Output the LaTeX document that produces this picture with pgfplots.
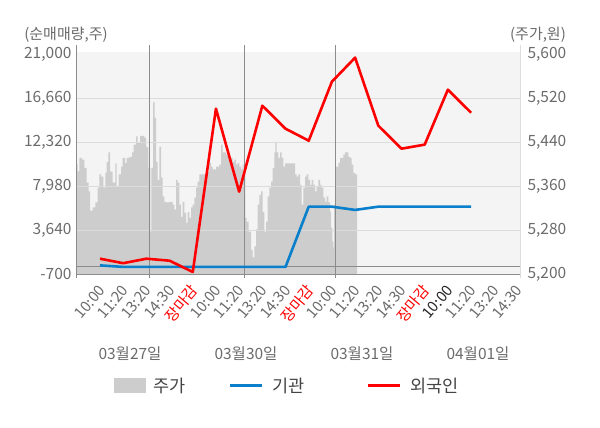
\documentclass[border=0pt]{standalone}
\usepackage{fontspec}
\setmainfont{Noto Sans CJK KR}
\usepackage{pgfplots}
\usepackage{pgfplotstable}
\pgfplotsset{compat=1.18}
\definecolor{bgc}{HTML}{F4F4F4}
\definecolor{barc}{HTML}{CDCDCD}
\definecolor{gridc}{HTML}{DCDCDC}
\definecolor{txtc}{HTML}{6B6B6B}
\definecolor{legc}{HTML}{444444}
\definecolor{bluec}{HTML}{0A7FCC}
\definecolor{redc}{HTML}{FF0000}
\definecolor{darkline}{HTML}{8C8C8C}

\pgfplotstableread{
x y
76.0 5400
77.7 5387
79.3 5411
82.0 5408
84.3 5393
86.7 5366
88.7 5350
90.0 5315
92.7 5321
95.3 5330
97.7 5357
99.3 5381
101.0 5377
103.3 5357
105.3 5384
106.7 5404
108.3 5421
110.0 5386
112.7 5366
115.3 5401
116.7 5359
118.7 5381
121.0 5395
122.7 5411
125.0 5402
126.7 5411
129.3 5413
132.0 5421
133.7 5435
136.0 5450
137.7 5439
140.0 5451
142.7 5451
144.3 5448
146.0 5431
147.7 5430
148.3 5393
150.3 5277
151.3 5393
153.0 5512
154.7 5484
156.0 5404
157.7 5371
159.3 5431
161.0 5375
162.7 5341
164.3 5331
166.0 5330
169.3 5331
172.7 5326
174.3 5317
176.0 5371
177.7 5366
179.3 5326
181.0 5304
182.7 5331
184.3 5311
186.0 5293
187.7 5313
189.3 5302
191.0 5321
192.7 5326
194.3 5339
196.0 5357
197.7 5368
199.3 5381
202.7 5381
206.0 5386
209.3 5402
211.0 5395
212.7 5390
216.0 5395
219.3 5399
221.0 5435
222.7 5421
226.0 5417
229.3 5411
232.7 5404
234.3 5408
236.0 5399
237.7 5402
239.3 5395
241.0 5390
242.7 5399
243.7 5386
245.3 5302
246.7 5295
248.7 5277
251.0 5244
252.7 5230
254.3 5250
256.0 5281
257.7 5326
259.3 5344
261.0 5350
262.7 5313
264.3 5277
266.0 5295
267.7 5341
269.3 5357
271.0 5368
272.7 5393
274.3 5421
275.3 5440
276.7 5421
278.3 5411
280.0 5421
281.7 5411
283.3 5395
285.0 5401
294.0 5401
295.0 5381
296.7 5377
298.3 5381
300.0 5362
301.7 5326
303.3 5357
305.0 5377
306.7 5381
308.3 5371
310.0 5362
311.7 5371
313.3 5362
315.0 5350
316.7 5359
318.3 5371
320.0 5362
321.7 5357
323.3 5339
325.0 5331
326.7 5341
328.3 5330
330.0 5313
331.0 5284
332.3 5259
333.3 5248
334.0 5326
336.0 5395
338.3 5402
340.0 5411
341.7 5411
343.3 5417
345.0 5421
346.7 5421
348.3 5413
350.0 5411
351.7 5399
353.3 5384
355.0 5381
357.0 5381
}\pricedata

\begin{document}
\begin{tikzpicture}[x=1pt,y=1pt]
\useasboundingbox (0,0) rectangle (600,428);
\fill[bgc] (76,154) rectangle (520,376);
% price area (right axis)
\begin{axis}[
  at={(76pt,154pt)}, anchor=south west, scale only axis,
  width=444pt, height=222pt,
  xmin=76, xmax=520, ymin=5200, ymax=5603.6,
  axis x line=none, axis y line*=right,
  y axis line style={draw=none},
  axis on top,
  scaled y ticks=false,
  ytick={5200,5280,5360,5440,5520,5600},
  yticklabels={{5,200},{5,280},{5,360},{5,440},{5,520},{5,600}},
  extra y ticks={5280,5360,5440,5520},
  extra y tick labels={},
  extra y tick style={grid=major, major grid style={gridc, line width=0.9pt}},
  major tick length=0pt,
  yticklabel style={font=\fontsize{15.5}{15.5}\selectfont, text=txtc, anchor=west, xshift=4pt},
  /pgf/number format/assume math mode=true,
]
\addplot[fill=barc, draw=none, const plot] table {\pricedata} \closedcycle;
\end{axis}
% frame lines
\draw[darkline, line width=0.9pt] (76,154) -- (520,154);
\draw[darkline, line width=0.9pt] (76,150) -- (76,383);
\draw[gridc, line width=0.9pt] (520,150) -- (520,383);
\foreach \xx in {149.5,244.5,335.3}{
  \draw[darkline, line width=0.9pt] (\xx,150) -- (\xx,383);
}
% net buying lines (left axis)
\begin{axis}[
  at={(76pt,154pt)}, anchor=south west, scale only axis,
  width=444pt, height=222pt,
  xmin=-1.035, xmax=18.11, ymin=-700, ymax=21197,
  axis x line*=bottom, axis y line*=left,
  x axis line style={draw=none}, y axis line style={draw=none},
  scaled y ticks=false, scaled x ticks=false,
  xtick={0,...,18},
  xticklabels={10:00,11:20,13:20,14:30,\textcolor{redc}{장마감},10:00,11:20,13:20,14:30,\textcolor{redc}{장마감},10:00,11:20,13:20,14:30,\textcolor{redc}{장마감},\textcolor{black!85}{10:00},11:20,13:20,14:30},
  xticklabel style={font=\fontsize{15}{15}\selectfont, text=txtc, xshift=4pt, yshift=-11pt, rotate=50, anchor=east},
  ytick={-700,3640,7980,12320,16660,21000},
  yticklabels={{-700},{3,640},{7,980},{12,320},{16,660},{21,000}},
  yticklabel style={font=\fontsize{15.5}{15.5}\selectfont, text=txtc, anchor=east, xshift=-1pt},
  major tick length=0pt,
  /pgf/number format/assume math mode=true,
  clip=false,
]
\draw[darkline, line width=0.9pt] (axis cs:-1.035,0) -- (axis cs:18.11,0);
\addplot[bluec, line width=2.6pt, line join=round] coordinates {
(0,150) (1,0) (2,0) (3,0) (4,0) (5,0) (6,0) (7,0) (8,0)
(9,5940) (10,5940) (11,5620) (12,5940) (13,5940) (14,5940) (15,5940) (16,5940)};
\addplot[redc, line width=2.6pt, line join=round] coordinates {
(0,809) (1,365) (2,809) (3,612) (4,-500) (5,15605) (6,7418) (7,15900) (8,13630)
(9,12450) (10,18270) (11,20640) (12,13930) (13,11660) (14,12060) (15,17480) (16,15210)};
\end{axis}
% axis titles
\node[text=txtc, font=\fontsize{15}{15}\selectfont] at (66,393) {(순매매량,주)};
\node[text=txtc, font=\fontsize{15}{15}\selectfont] at (538,393) {(주가,원)};
% date labels
\foreach \xx/\dd in {130/03월27일,246/03월30일,362/03월31일,478/04월01일}{
  \node[text=txtc, font=\fontsize{15.5}{15.5}\selectfont] at (\xx,74) {\dd};
}
% legend
\fill[barc] (114,35) rectangle (146,50);
\node[text=legc, font=\fontsize{17.5}{17.5}\selectfont, anchor=west, inner sep=0pt] at (153,42) {주가};
\draw[bluec, line width=3pt] (230,42) -- (262,42);
\node[text=legc, font=\fontsize{17.5}{17.5}\selectfont, anchor=west, inner sep=0pt] at (272,42) {기관};
\draw[redc, line width=3pt] (368,42) -- (400,42);
\node[text=legc, font=\fontsize{17.5}{17.5}\selectfont, anchor=west, inner sep=0pt] at (410,42) {외국인};
\end{tikzpicture}
\end{document}
